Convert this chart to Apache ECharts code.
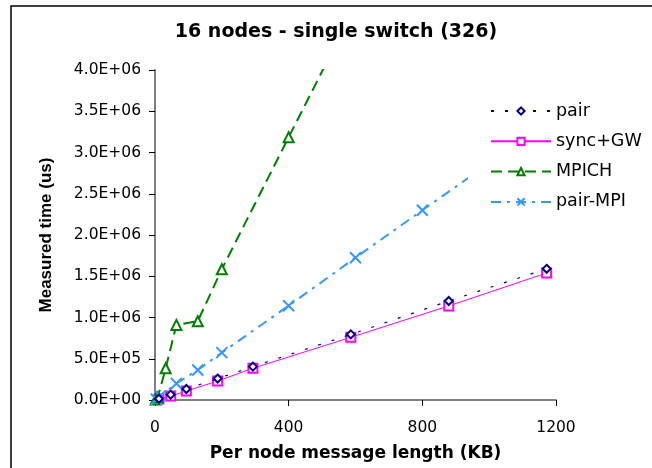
<!DOCTYPE html>
<html>
<head>
<meta charset="utf-8">
<script src="https://cdn.jsdelivr.net/npm/echarts@6/dist/echarts.min.js"></script>
<style>
html,body{margin:0;padding:0;background:#fff;}
#c{width:652px;height:468px;}
</style>
</head>
<body>
<div id="c"></div>
<script>
// ---- data ----
const titleText = "16 nodes - single switch (326)";
const xAxisName = "Per node message length (KB)";
const yAxisName = "Measured time (us)";
const xTicks = [0, 400, 800, 1200];
const yTicks = [0, 5e5, 1e6, 1.5e6, 2e6, 2.5e6, 3e6, 3.5e6, 4e6];
const yTickLabels = ["0.0E+00","5.0E+05","1.0E+06","1.5E+06","2.0E+06","2.5E+06","3.0E+06","3.5E+06","4.0E+06"];

const pairKB   = [11.7, 46.9, 93.8, 187.5, 293, 586, 879, 1172];
const pairTime = [1.5e4, 6.5e4, 1.33e5, 2.6e5, 4.05e5, 7.95e5, 1.2e6, 1.59e6];

const syncKB   = [11.7, 46.9, 93.8, 187.5, 293, 586, 879, 1172];
const syncTime = [1.2e4, 4.8e4, 1.09e5, 2.3e5, 3.85e5, 7.6e5, 1.14e6, 1.54e6];

const mpichKB   = [2, 8, 32, 64, 128, 200, 400, 600];
const mpichTime = [5e3, 3e4, 3.85e5, 9.1e5, 9.55e5, 1.585e6, 3.185e6, 4.78e6];

const pairMpiKB   = [4, 16, 64, 128, 200, 400, 600, 800, 1000];
const pairMpiTime = [1e4, 5e4, 2.0e5, 3.64e5, 5.74e5, 1.143e6, 1.725e6, 2.30e6, 2.87e6];

const zip = (a, b) => a.map((v, i) => [v, b[i]]);

const chart = echarts.init(document.getElementById('c'), null, {renderer: 'canvas'});
const labelFont = 'DejaVu Sans';

chart.setOption({
  animation: false,
  backgroundColor: '#fff',
  graphic: [{
    type: 'rect', silent: true, z: 0,
    shape: {x: 11, y: 6, width: 700, height: 500},
    style: {fill: 'none', stroke: '#000', lineWidth: 1.5}
  }],
  title: {
    text: titleText, left: 336, top: 23, textAlign: 'center', padding: 0,
    textStyle: {fontFamily: labelFont, fontWeight: 'bold', fontSize: 19, color: '#000'}
  },
  grid: {left: 155, top: 70, right: 96, bottom: 68, containLabel: false},
  xAxis: {
    type: 'value', min: 0, max: 1200, interval: 400,
    name: xAxisName, nameLocation: 'middle', nameGap: 45,
    nameTextStyle: {fontFamily: labelFont, fontWeight: 'bold', fontSize: 17, color: '#000'},
    axisLine: {onZero: false, lineStyle: {color: '#808080', width: 2}},
    axisTick: {show: true, length: 6, inside: false, lineStyle: {color: '#000', width: 1}},
    splitLine: {show: false},
    axisLabel: {margin: 20, fontFamily: labelFont, fontSize: 15.5, color: '#000',
      formatter: v => (xTicks.indexOf(v) >= 0 ? String(v) : '')}
  },
  yAxis: {
    type: 'value', min: 0, max: 4e6, interval: 5e5,
    name: yAxisName, nameLocation: 'middle', nameGap: 100, nameRotate: 90,
    nameTextStyle: {fontFamily: 'Liberation Sans', fontWeight: 'bold', fontSize: 17, color: '#000'},
    axisLine: {show: true, lineStyle: {color: '#808080', width: 2}},
    axisTick: {show: true, length: 6, inside: false, lineStyle: {color: '#000', width: 1}},
    splitLine: {show: false},
    axisLabel: {margin: 14, fontFamily: labelFont, fontSize: 15.5, color: '#000',
      formatter: v => { const i = yTicks.findIndex(t => Math.abs(t - v) < 1); return i >= 0 ? yTickLabels[i] : ''; }}
  },
  legend: {
    orient: 'vertical', left: 468, top: 86,
    padding: [15, 10, 15, 22],
    backgroundColor: '#fff',
    itemWidth: 60, itemHeight: 9, itemGap: 10.3,
    textStyle: {fontFamily: labelFont, fontSize: 17.5, color: '#000', lineHeight: 20},
    data: ['pair', 'sync+GW', 'MPICH', 'pair-MPI']
  },
  series: [
    {
      name: 'pair', type: 'line', data: zip(pairKB, pairTime),
      symbol: 'diamond', symbolSize: 8, clip: true,
      lineStyle: {color: '#000080', width: 1.2, type: [3, 11]},
      itemStyle: {color: '#fff', borderColor: '#000080', borderWidth: 2}, z: 3
    },
    {
      name: 'sync+GW', type: 'line', data: zip(syncKB, syncTime),
      symbol: 'rect', symbolSize: 9, clip: true,
      lineStyle: {color: '#FF00FF', width: 1, type: 'solid'},
      itemStyle: {color: '#fff', borderColor: '#FF00FF', borderWidth: 2}, z: 2
    },
    {
      name: 'MPICH', type: 'line', data: zip(mpichKB, mpichTime),
      symbol: 'triangle', symbolSize: 10, clip: true,
      lineStyle: {color: '#008000', width: 2, type: [11, 6]},
      itemStyle: {color: '#fff', borderColor: '#008000', borderWidth: 2}, z: 2
    },
    {
      name: 'pair-MPI', type: 'line', data: zip(pairMpiKB, pairMpiTime),
      symbol: 'path://M0,0L10,10M10,0L0,10', symbolSize: 11, clip: true,
      lineStyle: {color: '#3399FF', width: 2, type: [10, 6, 3, 6]},
      itemStyle: {color: '#3399FF', borderColor: '#3399FF', borderWidth: 2}, z: 2
    }
  ]
});
</script>
</body>
</html>
